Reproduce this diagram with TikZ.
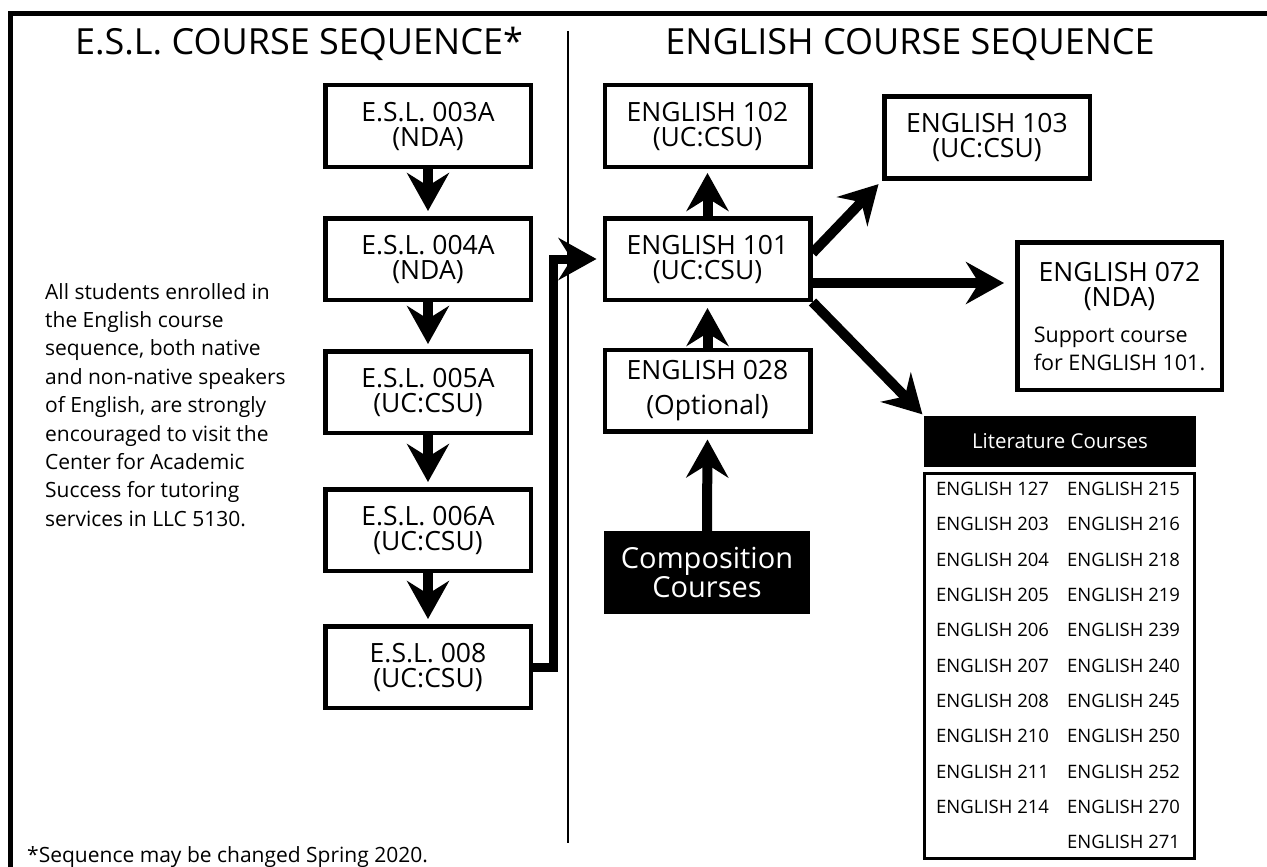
\documentclass[tikz,border=0pt]{standalone}
\usepackage{fontspec}
\setmainfont{Open Sans}
\usetikzlibrary{arrows.meta,calc}
\newcommand\titlef{\fontsize{36}{40}\selectfont}
\newcommand\bxf{\fontsize{26.5}{25}\selectfont}
\newcommand\parf{\fontsize{21}{28.4}\selectfont}
\newcommand\litf{\fontsize{18.5}{35.3}\selectfont}
\newcommand\compf{\fontsize{29}{26}\selectfont}
\newcommand\smf{\fontsize{21.5}{28}\selectfont}
\newcommand\hdf{\fontsize{20.5}{24}\selectfont}
\begin{document}
\begin{tikzpicture}[x=1pt,y=-1pt,
  box/.style={draw, line width=4.5pt, minimum width=205.5pt, minimum height=81.5pt, inner sep=0pt, align=center, font=\bxf},
  arr/.style={line width=10pt, -{Stealth[length=38pt,width=42pt,inset=13pt]}},
  blk/.style={fill=black, text=white, inner sep=0pt, align=center}]
\useasboundingbox (0,0) rectangle (1267,867);
% frame
\draw[line width=5pt, line join=miter] (10.5,880) -- (10.5,13.5) -- (1280,13.5);
% divider
\draw[line width=2pt] (567.5,31) -- (567.5,843);
% titles
\node[font=\titlef, anchor=base, inner sep=0pt] (esltitle) at (299,55) {E.S.L. COURSE SEQUENCE*};
\node[font=\titlef, anchor=base, inner sep=0pt] (engtitle) at (910,55) {ENGLISH COURSE SEQUENCE};
% ESL boxes
\node[box] (esl1) at (428,126) {E.S.L. 003A\\(NDA)};
\node[box] (esl2) at (428,259) {E.S.L. 004A\\(NDA)};
\node[box] (esl3) at (428,392) {E.S.L. 005A\\(UC:CSU)};
\node[box] (esl4) at (428,530) {E.S.L. 006A\\(UC:CSU)};
\node[box] (esl5) at (428,667) {E.S.L. 008\\(UC:CSU)};
\draw[arr, shorten >=5pt] (esl1.south) -- (esl2.north);
\draw[arr, shorten >=5pt] (esl2.south) -- (esl3.north);
\draw[arr, shorten >=5pt] (esl3.south) -- (esl4.north);
\draw[arr, shorten >=5pt] (esl4.south) -- (esl5.north);
% note
\node[anchor=north west, align=left, font=\parf, inner sep=0pt] (note) at (45,283)
 {All students enrolled in\\the English course\\sequence, both native\\and non-native speakers\\of English, are strongly\\encouraged to visit the\\Center for Academic\\Success for tutoring\\services in LLC 5130.};
% English boxes
\node[box] (e102) at (707.5,126) {ENGLISH 102\\(UC:CSU)};
\node[box] (e101) at (707.5,259) {ENGLISH 101\\(UC:CSU)};
\node[box, font=\fontsize{26.5}{35}\selectfont] (e028) at (707.5,390.5) {ENGLISH 028\\(Optional)};
\node[box] (e103) at (987,137.5) {ENGLISH 103\\(UC:CSU)};
\node[box, minimum width=204.5pt, minimum height=147.5pt] (e072) at (1119.5,316) {};
\node[anchor=north, align=center, font=\bxf, inner sep=0pt] (t072) at (1119.5,262)
 {ENGLISH 072\\(NDA)\\[11pt]{\smf\begin{tabular}{@{}l@{}}Support course\\for ENGLISH 101.\end{tabular}}};
\node[blk, font=\compf, minimum width=206pt, minimum height=83pt] (comp) at (707,572.5) {Composition\\Courses};
\node[blk, font=\hdf, minimum width=272pt, minimum height=51pt] (lithead) at (1060,441.5) {Literature Courses};
\node[draw, line width=3pt, minimum width=270pt, minimum height=385pt, inner sep=0pt] (litbox) at (1059.5,666) {};
\node[anchor=north west, align=left, font=\litf, inner sep=0pt] (col1) at (936,482)
 {ENGLISH 127\\ENGLISH 203\\ENGLISH 204\\ENGLISH 205\\ENGLISH 206\\ENGLISH 207\\ENGLISH 208\\ENGLISH 210\\ENGLISH 211\\ENGLISH 214};
\node[anchor=north west, align=left, font=\litf, inner sep=0pt] (col2) at (1067,482)
 {ENGLISH 215\\ENGLISH 216\\ENGLISH 218\\ENGLISH 219\\ENGLISH 239\\ENGLISH 240\\ENGLISH 245\\ENGLISH 250\\ENGLISH 252\\ENGLISH 270\\ENGLISH 271};
% connectors
\draw[arr, line width=9pt, line join=miter, shorten >=6pt] (esl5.east) -- ++(20,0) |- (e101.west);
\draw[arr, shorten >=4pt] (e101.north) -- (e102.south);
\draw[arr, shorten >=6pt] (e028.north) -- (e101.south);
\draw[arr, shorten >=6pt] (comp.north) -- (e028.south);
\draw[arr, shorten >=5pt] ([yshift=6pt]e101.east) -- (e103.south west);
\coordinate (s072) at ([yshift=-24pt]e101.east);
\draw[arr, shorten >=11pt] (s072) -- (s072 -| e072.west);
\draw[arr, shorten >=2pt] (e101.south east) -- (lithead.north west);
% footnote
\node[anchor=base west, font=\parf, inner sep=0pt] (foot) at (27,862) {*Sequence may be changed Spring 2020.};
\end{tikzpicture}
\end{document}
